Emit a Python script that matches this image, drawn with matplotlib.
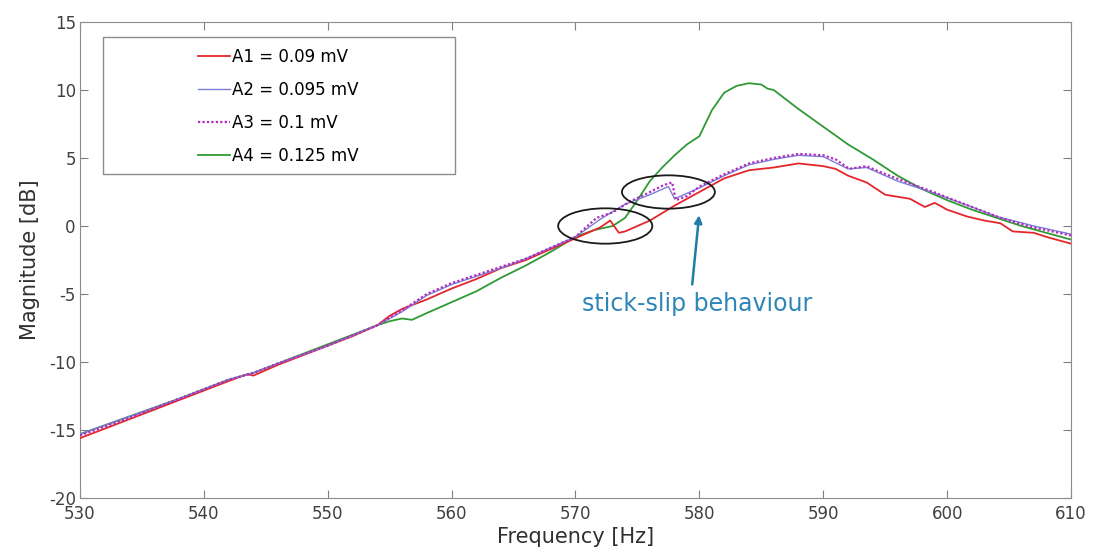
import matplotlib
matplotlib.use('Agg')
import matplotlib.pyplot as plt
from matplotlib.patches import Ellipse, Rectangle

plt.rcParams['font.family'] = ['DejaVu Sans']
plt.rcParams['axes.unicode_minus'] = False

# A1 = 0.09 mV
f_a1 = [530, 532, 534, 536, 538, 540, 542, 543.5, 544, 545, 546, 548, 550, 552, 554,
        555, 556, 558, 560, 562, 564, 566, 568, 570, 572, 572.8, 573.5, 574, 576, 578,
        580, 582, 584, 586, 588, 590, 591, 592, 593.5, 595, 597, 598.2, 599, 600,
        601.6, 603, 604.3, 605.3, 607, 608, 610]
m_a1 = [-15.6, -14.9, -14.2, -13.5, -12.8, -12.1, -11.4, -10.9, -11.0, -10.6, -10.2,
        -9.5, -8.8, -8.1, -7.3, -6.6, -6.1, -5.4, -4.6, -3.9, -3.1, -2.5, -1.7, -0.9,
        -0.1, 0.4, -0.5, -0.4, 0.4, 1.5, 2.5, 3.5, 4.1, 4.3, 4.6, 4.4, 4.2, 3.7, 3.2,
        2.3, 2.0, 1.4, 1.7, 1.2, 0.7, 0.4, 0.2, -0.4, -0.5, -0.8, -1.3]

# A2 = 0.095 mV
f_a2 = [530, 534, 538, 542, 544, 546, 550, 554, 556, 558, 560, 562, 564, 566, 568,
        570, 572, 574, 576, 577.5, 578, 580, 582, 584, 586, 588, 590, 592, 593.5,
        596, 599, 602, 604, 607, 610]
m_a2 = [-15.3, -14.0, -12.7, -11.3, -10.8, -10.1, -8.8, -7.3, -6.3, -5.1, -4.3,
        -3.7, -3.1, -2.4, -1.6, -0.8, 0.5, 1.6, 2.3, 2.9, 2.0, 2.8, 3.7, 4.5, 4.9,
        5.2, 5.1, 4.2, 4.3, 3.3, 2.4, 1.4, 0.7, 0.0, -0.6]

# A3 = 0.1 mV
f_a3 = [530, 534, 538, 542, 544, 546, 550, 554, 556, 558, 560, 562, 564, 566, 568,
        570, 571.7, 573, 574.4, 575.8, 577.1, 577.8, 578.1, 579, 580, 582, 584, 586,
        588, 590, 591, 592.1, 593.5, 594.5, 596.2, 598.9, 600, 602, 604.3, 606.9,
        608, 610]
m_a3 = [-15.4, -14.1, -12.7, -11.3, -10.8, -10.1, -8.8, -7.3, -6.2, -5.0, -4.2,
        -3.6, -3.0, -2.4, -1.6, -0.8, 0.6, 1.0, 1.8, 2.4, 3.0, 3.2, 1.9, 2.2, 2.9,
        3.8, 4.6, 5.0, 5.3, 5.2, 4.9, 4.2, 4.4, 4.0, 3.4, 2.5, 2.1, 1.4, 0.6, -0.1,
        -0.3, -0.7]

# A4 = 0.125 mV
f_a4 = [530, 534, 538, 542, 544, 546, 550, 554, 555, 556, 556.8, 558, 560, 562, 564,
        566, 568, 570, 571.5, 573, 574, 575, 576, 577, 578, 579, 580, 581, 582, 583,
        584, 585, 585.5, 586, 587, 588, 590, 592, 594, 596, 598, 600, 602, 604, 606,
        608, 610]
m_a4 = [-15.3, -14.0, -12.7, -11.3, -10.8, -10.1, -8.7, -7.3, -7.0, -6.8, -6.9,
        -6.4, -5.6, -4.8, -3.8, -2.9, -1.9, -0.8, -0.3, 0.0, 0.6, 1.9, 3.3, 4.3, 5.2,
        6.0, 6.6, 8.5, 9.8, 10.3, 10.5, 10.4, 10.1, 10.0, 9.3, 8.6, 7.3, 6.0, 4.9,
        3.7, 2.7, 1.9, 1.2, 0.6, 0.0, -0.5, -1.0]

labels = ['A1 = 0.09 mV', 'A2 = 0.095 mV', 'A3 = 0.1 mV', 'A4 = 0.125 mV']
xticks = list(range(530, 611, 10))
yticks = list(range(-20, 16, 5))

fig = plt.figure(figsize=(10.94, 5.58), dpi=100)
ax = fig.add_axes([0.0731, 0.1075, 0.9059, 0.8531])

ax.plot(f_a1, m_a1, color='#e4262c', lw=1.3, label=labels[0], zorder=3)
ax.plot(f_a2, m_a2, color='#7b7fd6', lw=1.0, label=labels[1], zorder=4)
ax.plot(f_a3, m_a3, color='#b02cc0', lw=1.6, ls=(0, (1, 1)), label=labels[2], zorder=5)
ax.plot(f_a4, m_a4, color='#2f9a34', lw=1.3, label=labels[3], zorder=2)

# stick-slip markers
ax.add_patch(Ellipse((572.4, 0.0), 7.6, 2.6, fill=False, ec='#1a1a1a', lw=1.3, zorder=6))
ax.add_patch(Ellipse((577.5, 2.5), 7.5, 2.45, fill=False, ec='#1a1a1a', lw=1.3, zorder=6))
ax.annotate('', xy=(580.0, 1.0), xytext=(579.4, -4.5),
            arrowprops=dict(arrowstyle='-|>', color='#1f7ea6', lw=1.8,
                            mutation_scale=11))
ax.text(579.8, -5.7, 'stick-slip behaviour', color='#2e86b8', fontsize=17,
        ha='center', va='center')

ax.set_xlim(530, 610)
ax.set_ylim(-20, 15)
ax.set_xticks(xticks)
ax.set_yticks(yticks)
ax.tick_params(direction='in', length=6, top=True, right=True, colors='#808080',
               labelcolor='#404040', labelsize=12, pad=3)
ax.tick_params(axis='x', pad=5)
for s in ax.spines.values():
    s.set_color('#8c8c8c')
ax.set_xlabel('Frequency [Hz]', fontsize=15, color='#303030', labelpad=3)
ax.set_ylabel('Magnitude [dB]', fontsize=15, color='#303030', labelpad=6)

# legend with a wide frame as in the original
ax.add_patch(Rectangle((0.0232, 0.681), 0.355, 0.287, transform=ax.transAxes,
                       fill=True, fc='white', ec='#8c8c8c', lw=1.0, zorder=7))
leg = ax.legend(loc='upper left', bbox_to_anchor=(0.119, 0.945), frameon=False,
                fontsize=12, borderpad=0, borderaxespad=0, labelspacing=0.9,
                handlelength=1.9, handletextpad=0.15)
leg.set_zorder(8)

fig.savefig('out.png', dpi=100)
